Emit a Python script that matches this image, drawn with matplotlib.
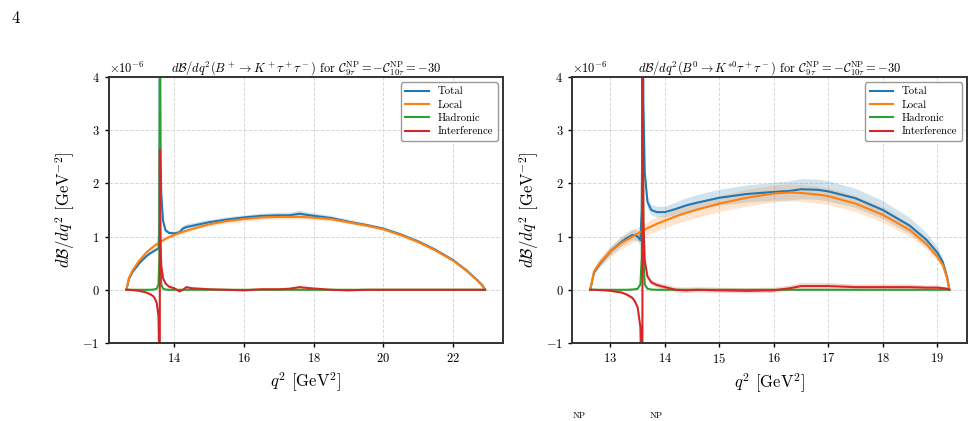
import numpy as np
import matplotlib
matplotlib.use('Agg')
import matplotlib.pyplot as plt

plt.rcParams['font.family'] = 'serif'
plt.rcParams['font.serif'] = ['cmr10']
plt.rcParams['mathtext.fontset'] = 'cm'
plt.rcParams['axes.formatter.use_mathtext'] = True
plt.rcParams['axes.unicode_minus'] = True

# ---- B+ -> K+ tau tau  (values in units of 1e-6 GeV^-2)
q2_kp = [12.63, 12.7, 12.8, 13.0, 13.2, 13.3, 13.4, 13.45, 13.5, 13.55, 13.575, 13.585, 13.59,
         13.595, 13.605, 13.63, 13.68, 13.75, 13.85, 14.0, 14.15, 14.25, 14.35, 14.5,
         15.0, 15.5, 16.0, 16.5, 17.0, 17.3, 17.6, 17.9, 18.5, 19.0, 19.5, 20.0,
         20.5, 21.0, 21.5, 22.0, 22.4, 22.7, 22.85, 22.92]
total_kp = [0, 0.20, 0.33, 0.50, 0.63, 0.68, 0.72, 0.74, 0.76, 0.78, 1.2, 3.0, 8.0,
            5.0, 2.8, 1.8, 1.3, 1.12, 1.07, 1.06, 1.08, 1.15, 1.18, 1.20,
            1.27, 1.32, 1.36, 1.39, 1.40, 1.40, 1.43, 1.40, 1.35, 1.28, 1.22, 1.15,
            1.04, 0.91, 0.75, 0.56, 0.36, 0.18, 0.08, 0]
local_kp = [0, 0.22, 0.36, 0.55, 0.70, 0.76, 0.81, 0.835, 0.86, 0.88, 0.89, 0.895, 0.90,
            0.90, 0.905, 0.915, 0.93, 0.96, 0.99, 1.03, 1.07, 1.09, 1.11, 1.14,
            1.23, 1.29, 1.33, 1.36, 1.37, 1.37, 1.37, 1.36, 1.33, 1.27, 1.21, 1.14,
            1.03, 0.90, 0.74, 0.55, 0.35, 0.17, 0.07, 0]
hadr_kp = [0, 0, 0, 0, 0, 0, 0.005, 0.01, 0.02, 0.1, 0.6, 4.0, 12.0,
           4.0, 0.6, 0.1, 0.02, 0.005, 0, 0, 0, 0, 0, 0,
           0, 0, 0, 0, 0, 0, 0, 0, 0, 0, 0, 0,
           0, 0, 0, 0, 0, 0, 0, 0]
intf_kp = [0, 0, -0.005, -0.02, -0.05, -0.08, -0.12, -0.17, -0.25, -0.5, -1.5, -4.0, 2.63,
           1.6, 0.9, 0.45, 0.22, 0.12, 0.06, 0.03, -0.03, 0.0, 0.05, 0.03,
           0.01, 0.0, -0.01, 0.01, 0.01, 0.02, 0.05, 0.03, 0.0, -0.01, 0.0, 0.0,
           0.0, 0.0, 0.0, 0.0, 0.0, 0.0, 0.0, 0]
# band half-widths
total_kp_err = [0, 0.02, 0.03, 0.03, 0.03, 0.03, 0.03, 0.03, 0.03, 0.03, 0.03, 0.03, 0.03,
                0.03, 0.03, 0.03, 0.03, 0.03, 0.03, 0.03, 0.04, 0.05, 0.05, 0.05,
                0.04, 0.04, 0.04, 0.04, 0.05, 0.05, 0.06, 0.05, 0.04, 0.04, 0.03, 0.03,
                0.03, 0.03, 0.03, 0.02, 0.02, 0.02, 0.01, 0]
local_kp_err = [0, 0.02, 0.03, 0.03, 0.03, 0.03, 0.03, 0.03, 0.03, 0.03, 0.03, 0.03, 0.03,
                0.03, 0.03, 0.03, 0.03, 0.03, 0.03, 0.03, 0.03, 0.03, 0.03, 0.03,
                0.03, 0.04, 0.04, 0.04, 0.04, 0.04, 0.04, 0.04, 0.03, 0.03, 0.03, 0.03,
                0.03, 0.03, 0.03, 0.02, 0.02, 0.02, 0.01, 0]
intf_kp_err = [0.015] * len(q2_kp)

# ---- B0 -> K*0 tau tau
q2_ks = [12.63, 12.7, 12.8, 13.0, 13.2, 13.3, 13.4, 13.45, 13.5, 13.55, 13.575, 13.585, 13.59,
         13.595, 13.605, 13.63, 13.68, 13.75, 13.85, 14.0, 14.2, 14.4, 14.6, 15.0,
         15.5, 16.0, 16.3, 16.5, 16.8, 17.0, 17.5, 18.0, 18.5, 18.8, 19.0, 19.1,
         19.18, 19.22]
total_ks = [0, 0.33, 0.48, 0.72, 0.90, 0.97, 1.03, 1.03, 1.00, 0.93, 1.5, 3.0, 8.0,
            6.0, 3.5, 2.2, 1.65, 1.50, 1.46, 1.46, 1.52, 1.59, 1.64, 1.73,
            1.80, 1.84, 1.86, 1.89, 1.88, 1.85, 1.72, 1.50, 1.20, 0.94, 0.70, 0.52,
            0.24, 0]
local_ks = [0, 0.35, 0.50, 0.72, 0.88, 0.94, 1.00, 1.03, 1.06, 1.09, 1.10, 1.11, 1.11,
            1.11, 1.12, 1.13, 1.16, 1.19, 1.24, 1.30, 1.38, 1.45, 1.51, 1.62,
            1.73, 1.81, 1.83, 1.82, 1.79, 1.76, 1.62, 1.41, 1.12, 0.86, 0.62, 0.47,
            0.21, 0]
hadr_ks = [0, 0, 0, 0, 0, 0, 0.005, 0.01, 0.02, 0.1, 0.6, 4.0, 12.0,
           4.0, 0.6, 0.1, 0.02, 0.005, 0, 0, 0, 0, 0, 0,
           0, 0, 0, 0, 0, 0, 0, 0, 0, 0, 0, 0,
           0, 0]
intf_ks = [0, 0, -0.005, -0.02, -0.05, -0.09, -0.15, -0.22, -0.33, -0.7, -2.0, -6.0, 6.0,
           3.0, 1.3, 0.55, 0.25, 0.14, 0.09, 0.05, 0.0, -0.01, 0.0, -0.01,
           -0.02, -0.01, 0.03, 0.07, 0.07, 0.07, 0.05, 0.05, 0.05, 0.04, 0.04, 0.03,
           0.02, 0]
total_ks_err = [0, 0.05, 0.07, 0.08, 0.09, 0.10, 0.10, 0.10, 0.10, 0.10, 0.10, 0.10, 0.10,
                0.10, 0.10, 0.10, 0.10, 0.10, 0.10, 0.10, 0.12, 0.13, 0.14, 0.15,
                0.16, 0.17, 0.18, 0.19, 0.19, 0.19, 0.18, 0.17, 0.15, 0.13, 0.11, 0.09,
                0.05, 0]
local_ks_err = [0, 0.06, 0.08, 0.10, 0.11, 0.115, 0.12, 0.12, 0.12, 0.12, 0.12, 0.12, 0.12,
                0.12, 0.12, 0.12, 0.12, 0.13, 0.13, 0.13, 0.14, 0.14, 0.15, 0.15,
                0.16, 0.16, 0.16, 0.16, 0.16, 0.16, 0.15, 0.14, 0.12, 0.10, 0.08, 0.07,
                0.04, 0]
intf_ks_err = [0, 0.005, 0.01, 0.01, 0.02, 0.025, 0.03, 0.03, 0.03, 0.03, 0.03, 0.03, 0.03,
               0.03, 0.03, 0.03, 0.03, 0.04, 0.05, 0.05, 0.05, 0.05, 0.05, 0.05,
               0.05, 0.05, 0.05, 0.06, 0.06, 0.06, 0.05, 0.05, 0.05, 0.04, 0.04, 0.03,
               0.02, 0]

titles = [r'$d\mathcal{B}/dq^2(B^+\to K^+\tau^+\tau^-)$ for $\mathcal{C}_{9\tau}^{\rm NP}=-\mathcal{C}_{10\tau}^{\rm NP}$$=-30$',
          r'$d\mathcal{B}/dq^2(B^0\to K^{*0}\tau^+\tau^-)$ for $\mathcal{C}_{9\tau}^{\rm NP}=-\mathcal{C}_{10\tau}^{\rm NP}$$=-30$']
labels = ['Total', 'Local', 'Hadronic', 'Interference']
colors = ['tab:blue', 'tab:orange', 'tab:green', 'tab:red']

panels = [
    (q2_kp, [total_kp, local_kp, hadr_kp, intf_kp],
     [total_kp_err, local_kp_err, None, intf_kp_err], [14, 16, 18, 20, 22]),
    (q2_ks, [total_ks, local_ks, hadr_ks, intf_ks],
     [total_ks_err, local_ks_err, None, intf_ks_err], [13, 14, 15, 16, 17, 18, 19]),
]

fig = plt.figure(figsize=(9.74, 4.21), dpi=100)
ax_pos = [[0.1114, 0.1853, 0.4050, 0.6318], [0.5876, 0.1853, 0.4055, 0.6318]]

for i, (q2, series, errs, xt) in enumerate(panels):
    ax = fig.add_axes(ax_pos[i])
    q2 = np.array(q2)
    for y, e, c, lab in zip(series, errs, colors, labels):
        y = np.array(y) * 1e-6
        if e is not None:
            e = np.array(e) * 1e-6
            ax.fill_between(q2, y - e, y + e, color=c, alpha=0.2, lw=0)
        ax.plot(q2, y, color=c, lw=1.5, label=lab)
    ax.set_ylim(-1e-6, 4e-6)
    ax.set_xticks(xt)
    ax.set_yticks(np.arange(-1, 5) * 1e-6)
    ax.grid(True, ls='--', color='#d8d8d8', lw=0.7)
    ax.set_axisbelow(True)
    for s in ax.spines.values():
        s.set_linewidth(1.4)
        s.set_color('#333333')
    ax.tick_params(labelsize=9, length=3, width=1)
    ax.yaxis.get_offset_text().set_fontsize(9)
    ax.set_title(titles[i], fontsize=9, pad=3)
    ax.set_xlabel(r'$q^2$ [GeV$^2$]', fontsize=12)
    ax.set_ylabel(r'$d\mathcal{B}/dq^2$ [GeV$^{-2}$]', fontsize=12)
    ax.legend(loc='upper right', fontsize=7.8, framealpha=1, edgecolor='#999999',
              handlelength=2.2, borderpad=0.4, labelspacing=0.35)

fig.text(0.012, 0.975, '4', fontsize=12, va='top', ha='left')
# caption fragment at the lower page edge
fig.text(0.588, 0.002, 'NP', fontsize=6.5, va='bottom', ha='left')
fig.text(0.667, 0.002, 'NP', fontsize=6.5, va='bottom', ha='left')

fig.savefig('out.png', dpi=100)
